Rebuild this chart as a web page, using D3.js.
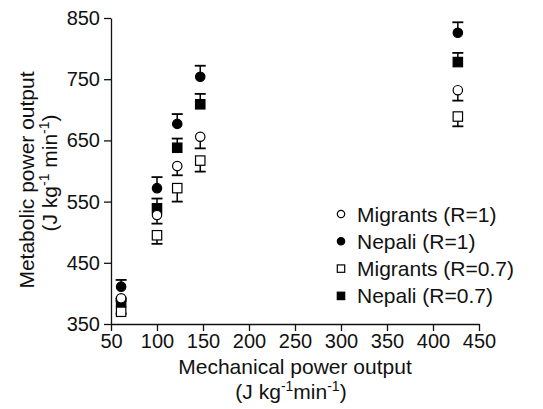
<!DOCTYPE html>
<html>
<head>
<meta charset="utf-8">
<script src="https://cdn.jsdelivr.net/npm/d3@7"></script>
<style>
  body { margin: 0; background: #fff; }
  svg text { font-family: "Liberation Sans", Arial, Helvetica, sans-serif; fill: #111; }
</style>
</head>
<body>
<svg id="chart" width="543" height="409"></svg>
<script>
// mechanical power output (x) for each workload
var mechPower = [61, 100, 122, 147, 427];

// metabolic power output, means and SE
var migrantsR1 = [392, 528, 608, 656, 732];
var migrantsR1Err = [4, 14, 15, 19, 17];
var nepaliR1 = [411, 572, 677, 754, 826];
var nepaliR1Err = [11, 18, 16, 18, 17];
var migrantsR07 = [370, 495, 572, 617, 689];
var migrantsR07Err = [3, 14, 22, 18, 16];
var nepaliR07 = [386, 539, 638, 709, 778];
var nepaliR07Err = [5, 16, 15, 17, 15];

var xTicks = [50, 100, 150, 200, 250, 300, 350, 400, 450];
var yTicks = [350, 450, 550, 650, 750, 850];

var seriesNames = ["Migrants (R=1)", "Nepali (R=1)", "Migrants (R=0.7)", "Nepali (R=0.7)"];

var margin = {left: 111, top: 18},
    width = 368,
    height = 306;

var svg = d3.select("#chart");
var g = svg.append("g").attr("transform", "translate(" + margin.left + "," + margin.top + ")");

var x = d3.scaleLinear().domain([50, 450]).range([0, width]);
var y = d3.scaleLinear().domain([350, 850]).range([height, 0]);

// axes
var xAxis = g.append("g")
    .attr("transform", "translate(0," + height + ")")
    .call(d3.axisBottom(x).tickValues(xTicks).tickSize(7).tickPadding(3).tickSizeOuter(0));
var yAxis = g.append("g")
    .call(d3.axisLeft(y).tickValues(yTicks).tickSize(7).tickPadding(4).tickSizeOuter(0));

[xAxis, yAxis].forEach(function(a) {
    a.selectAll("path, line").attr("stroke", "#111").attr("stroke-width", 1.3);
    a.selectAll("text").attr("font-size", 20).attr("font-family", null);
});

// series setup
var series = [
    {name: seriesNames[0], vals: migrantsR1, err: migrantsR1Err, shape: "circle", filled: false},
    {name: seriesNames[1], vals: nepaliR1, err: nepaliR1Err, shape: "circle", filled: true},
    {name: seriesNames[2], vals: migrantsR07, err: migrantsR07Err, shape: "square", filled: false},
    {name: seriesNames[3], vals: nepaliR07, err: nepaliR07Err, shape: "square", filled: true}
];

function drawMarker(sel, s, cx, cy, r) {
    if (s.shape === "circle") {
        sel.append("circle").attr("cx", cx).attr("cy", cy).attr("r", r)
            .attr("fill", s.filled ? "#000" : "#fff")
            .attr("stroke", "#000").attr("stroke-width", 1.2);
    } else {
        sel.append("rect").attr("x", cx - r).attr("y", cy - r)
            .attr("width", r * 2).attr("height", r * 2)
            .attr("fill", s.filled ? "#000" : "#fff")
            .attr("stroke", "#000").attr("stroke-width", 1.2);
    }
}

// error bars first (filled go up, open go down)
series.forEach(function(s) {
    var dir = s.filled ? 1 : -1;
    s.vals.forEach(function(v, i) {
        var px = x(mechPower[i]);
        var yEnd = y(v + dir * s.err[i]);
        g.append("line").attr("x1", px).attr("x2", px)
            .attr("y1", y(v)).attr("y2", yEnd)
            .attr("stroke", "#000").attr("stroke-width", 1.5);
        g.append("line").attr("x1", px - 5.5).attr("x2", px + 5.5)
            .attr("y1", yEnd).attr("y2", yEnd)
            .attr("stroke", "#000").attr("stroke-width", 1.8);
    });
});

// markers
[2, 3, 0, 1].forEach(function(k) {
    var s = series[k];
    s.vals.forEach(function(v, i) {
        drawMarker(g, s, x(mechPower[i]), y(v), 4.7);
    });
});

// legend
var legend = svg.append("g").attr("transform", "translate(341,214)");
series.forEach(function(s, i) {
    var row = legend.append("g").attr("transform", "translate(0," + (i * 27.3) + ")");
    drawMarker(row, s, 0, 0, 3.7);
    row.append("text").attr("x", 16).attr("y", 7.5).attr("font-size", 21).text(s.name);
});

// axis titles
var xt = svg.append("text").attr("x", 295).attr("y", 374)
    .attr("text-anchor", "middle").attr("font-size", 21).text("Mechanical power output");
var xt2 = svg.append("text").attr("x", 291).attr("y", 399)
    .attr("text-anchor", "middle").attr("font-size", 21);
xt2.append("tspan").text("(J kg");
xt2.append("tspan").attr("font-size", 14).attr("dy", -8).text("-1");
xt2.append("tspan").attr("dy", 8).text("min");
xt2.append("tspan").attr("font-size", 14).attr("dy", -8).text("-1");
xt2.append("tspan").attr("dy", 8).text(")");

var yt = svg.append("text").attr("transform", "translate(34,180) rotate(-90)")
    .attr("text-anchor", "middle").attr("font-size", 21).text("Metabolic power output");
var yt2 = svg.append("text").attr("transform", "translate(57,173) rotate(-90)")
    .attr("text-anchor", "middle").attr("font-size", 21);
yt2.append("tspan").text("(J kg");
yt2.append("tspan").attr("font-size", 14).attr("dy", -8).text("-1");
yt2.append("tspan").attr("dy", 8).text(" min");
yt2.append("tspan").attr("font-size", 14).attr("dy", -8).text("-1");
yt2.append("tspan").attr("dy", 8).text(")");
</script>
</body>
</html>
